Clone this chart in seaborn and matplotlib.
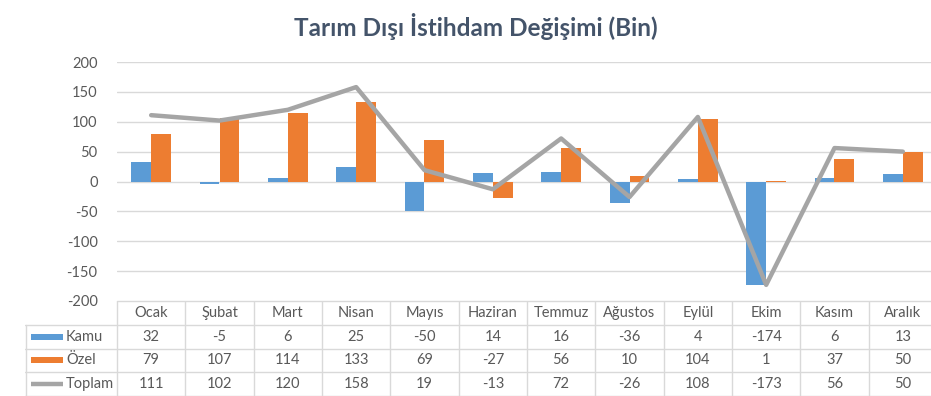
import numpy as np
import pandas as pd
import matplotlib
matplotlib.use('Agg')
import matplotlib.pyplot as plt
import seaborn as sns

# data
months = ['Ocak', 'Şubat', 'Mart', 'Nisan', 'Mayıs', 'Haziran', 'Temmuz',
          'Ağustos', 'Eylül', 'Ekim', 'Kasım', 'Aralık']
kamu = [32, -5, 6, 25, -50, 14, 16, -36, 4, -174, 6, 13]
ozel = [79, 107, 114, 133, 69, -27, 56, 10, 104, 1, 37, 50]
toplam = [111, 102, 120, 158, 19, -13, 72, -26, 108, -173, 56, 50]
series_names = ['Kamu', 'Özel', 'Toplam']
yticks = [-200, -150, -100, -50, 0, 50, 100, 150, 200]

blue = '#5B9BD5'
orange = '#ED7D31'
gray = '#A5A5A5'
grid_c = '#D9D9D9'
text_c = '#595959'

sns.set_theme(style='white')
plt.rcParams['font.family'] = ['Lato', 'DejaVu Sans']
plt.rcParams['axes.unicode_minus'] = False

bars = pd.DataFrame({
    'month': months * 2,
    'series': ['Kamu'] * 12 + ['Özel'] * 12,
    'value': kamu + ozel,
})
line = pd.DataFrame({'pos': np.arange(len(months)), 'value': toplam})

W, H = 931, 396
fig = plt.figure(figsize=(W / 100, H / 100), dpi=100)

x0, x1 = 117, 937
ytop, ybot = 62, 301
ax = fig.add_axes([x0 / W, 1 - ybot / H, (x1 - x0) / W, (ybot - ytop) / H])

sns.barplot(data=bars, x='month', y='value', hue='series', order=months,
            hue_order=['Kamu', 'Özel'], palette=[blue, orange], width=0.58,
            saturation=1, legend=False, linewidth=0, ax=ax, zorder=2)
sns.lineplot(data=line, x='pos', y='value', color=gray, linewidth=3.2,
             ax=ax, zorder=3)

ax.set_xlim(-0.5, 11.5)
ax.set_ylim(-200, 200)
ax.set_yticks(yticks)
ax.set_yticklabels([str(v) for v in yticks], fontsize=10.5, color=text_c)
ax.set_xticks([])
ax.set_xlabel('')
ax.set_ylabel('')
ax.tick_params(axis='y', length=0, pad=14)
ax.grid(axis='y', color=grid_c, linewidth=1, zorder=0)
ax.set_axisbelow(True)
for s in ax.spines.values():
    s.set_visible(False)

# data table below the plot
tx0 = 25
unit = (x1 - x0) / 12
left_lim = -0.5 - (x0 - tx0) / unit
tab = fig.add_axes([tx0 / W, 0, (x1 - tx0) / W, (H - ybot) / H])
tab.set_xlim(left_lim, 11.5)
tab.set_ylim(4, 0)
tab.axis('off')

lk = dict(color=grid_c, linewidth=1)
tab.plot([-0.5, 11.5], [0, 0], **lk)
for r in range(1, 5):
    tab.plot([left_lim, 11.5], [r, r], **lk)
for c in range(13):
    tab.plot([c - 0.5, c - 0.5], [0, 4], **lk)
tab.plot([left_lim + 0.01, left_lim + 0.01], [1, 4], **lk)

for i, m in enumerate(months):
    tab.text(i, 0.5, m, ha='center', va='center', fontsize=10.5, color=text_c)
rows = [kamu, ozel, toplam]
for r, vals in enumerate(rows):
    for i, v in enumerate(vals):
        tab.text(i, r + 1.5, str(v), ha='center', va='center', fontsize=10.5,
                 color=text_c)

key_x0 = left_lim + 6 / unit
key_x1 = left_lim + 38 / unit
for r, (name, col) in enumerate(zip(series_names, [blue, orange, gray])):
    yc = r + 1.5
    if name == 'Toplam':
        tab.plot([key_x0, key_x1], [yc, yc], color=col, linewidth=3.2,
                 solid_capstyle='butt')
    else:
        tab.fill_between([key_x0, key_x1], yc - 0.13, yc + 0.13, color=col,
                         linewidth=0)
    tab.text(key_x1 + 3 / unit, yc, name, ha='left', va='center',
             fontsize=10.5, color=text_c)

fig.text(476 / W, 1 - 26 / H, 'Tarım Dışı İstihdam Değişimi (Bin)',
         ha='center', va='center', fontsize=17.5, fontweight='bold',
         color='#44546A')

fig.savefig('out.png', dpi=100)
